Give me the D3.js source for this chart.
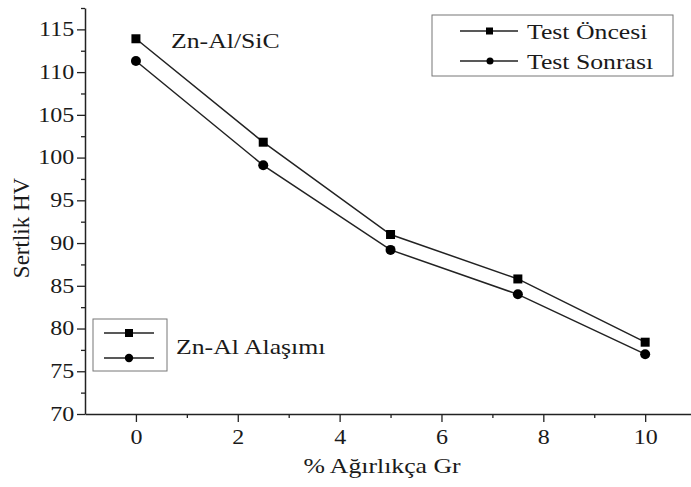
<!DOCTYPE html>
<html>
<head>
<meta charset="utf-8">
<script src="https://cdn.jsdelivr.net/npm/d3@7"></script>
<style>
  body { margin: 0; background: #fff; }
  text { font-family: "Liberation Serif", "DejaVu Serif", serif; fill: #1a1a1a; }
</style>
</head>
<body>
<script>
// data
var gr = [0, 2.5, 5, 7.5, 10];
var testOncesi = [113.9, 101.8, 91.0, 85.8, 78.4];
var testSonrasi = [111.3, 99.1, 89.2, 84.0, 77.0];
var seriesNames = ["Test Öncesi", "Test Sonrası"];
var yTicks = [70, 75, 80, 85, 90, 95, 100, 105, 110, 115];
var xTicks = [0, 2, 4, 6, 8, 10];

var width = 691, height = 487;
var padLeft = 85, padTop = 8, axisY = 414, padRight = 691;
var sx = 1.17; // text in the picture is a bit wide

var svg = d3.select("body").append("svg")
  .attr("width", width)
  .attr("height", height);

var xScale = d3.scaleLinear().domain([-1, 10.9]).range([padLeft, padRight]);
var yScale = d3.scaleLinear().domain([70, 117.5]).range([axisY, padTop]);

// minor ticks first, then major ticks with labels
svg.append("g")
  .attr("transform", "translate(0," + axisY + ")")
  .call(d3.axisBottom(xScale).tickValues([1, 3, 5, 7, 9]).tickSize(4).tickFormat(""))
  .call(g => g.select(".domain").remove());
svg.append("g")
  .attr("transform", "translate(" + padLeft + ",0)")
  .call(d3.axisLeft(yScale).tickValues(d3.range(72.5, 118, 5)).tickSize(4).tickFormat(""))
  .call(g => g.select(".domain").remove());

var xAxis = svg.append("g")
  .attr("transform", "translate(0," + axisY + ")")
  .call(d3.axisBottom(xScale).tickValues(xTicks).tickSize(8).tickSizeOuter(0).tickPadding(8));
var yAxis = svg.append("g")
  .attr("transform", "translate(" + padLeft + ",0)")
  .call(d3.axisLeft(yScale).tickValues(yTicks).tickSize(8).tickSizeOuter(0).tickPadding(9));

svg.selectAll(".tick line").attr("stroke", "#222").attr("stroke-width", 1.3);
svg.selectAll(".domain").attr("stroke", "#222").attr("stroke-width", 1.5);
svg.selectAll(".tick text")
  .style("font-size", "20px")
  .style("font-family", "'Liberation Serif', 'DejaVu Serif', serif")
  .attr("fill", "#1a1a1a");
xAxis.selectAll("text").attr("transform", function() {
  var t = d3.select(this.parentNode).attr("transform");
  return "scale(1.2,1)";
}).attr("x", 0);
yAxis.selectAll("text").attr("x", -9).attr("transform", "scale(1.2,1)");

// axis titles
svg.append("text")
  .attr("transform", "translate(382,473) scale(" + sx + ",1)")
  .attr("text-anchor", "middle")
  .style("font-size", "22px")
  .text("% Ağırlıkça Gr");
svg.append("text")
  .attr("transform", "translate(29,228) rotate(-90)")
  .attr("text-anchor", "middle")
  .style("font-size", "23px")
  .text("Sertlik HV");

// lines and markers
var line = d3.line()
  .x(function(d) { return xScale(d[0]); })
  .y(function(d) { return yScale(d[1]); });

var series = [testOncesi, testSonrasi].map(function(vals) {
  return gr.map(function(g, i) { return [g, vals[i]]; });
});

svg.append("g").selectAll("path")
  .data(series)
  .join("path")
  .attr("d", line)
  .attr("fill", "none")
  .attr("stroke", "#222")
  .attr("stroke-width", 1.5);

svg.append("g").selectAll("rect")
  .data(series[0])
  .join("rect")
  .attr("x", function(d) { return xScale(d[0]) - 4.5; })
  .attr("y", function(d) { return yScale(d[1]) - 4.5; })
  .attr("width", 9)
  .attr("height", 9)
  .attr("fill", "#000");

svg.append("g").selectAll("circle")
  .data(series[1])
  .join("circle")
  .attr("cx", function(d) { return xScale(d[0]); })
  .attr("cy", function(d) { return yScale(d[1]); })
  .attr("r", 5)
  .attr("fill", "#000");

// upper right legend
var leg = svg.append("g");
leg.append("rect")
  .attr("x", 432).attr("y", 15).attr("width", 241).attr("height", 61)
  .attr("fill", "#fff").attr("stroke", "#777").attr("stroke-width", 1);
seriesNames.forEach(function(name, i) {
  var y = 31 + i * 30;
  leg.append("line").attr("x1", 460).attr("x2", 518).attr("y1", y).attr("y2", y)
    .attr("stroke", "#222").attr("stroke-width", 1.5);
  if (i == 0) {
    leg.append("rect").attr("x", 486).attr("y", y - 3.5).attr("width", 7).attr("height", 7).attr("fill", "#000");
  } else {
    leg.append("circle").attr("cx", 490).attr("cy", y).attr("r", 3.5).attr("fill", "#000");
  }
  leg.append("text")
    .attr("transform", "translate(527," + (y + 8) + ") scale(" + sx + ",1)")
    .style("font-size", "22px")
    .text(name);
});

// lower left legend
var leg2 = svg.append("g");
leg2.append("rect")
  .attr("x", 93).attr("y", 319).attr("width", 74).attr("height", 52)
  .attr("fill", "#fff").attr("stroke", "#777").attr("stroke-width", 1);
[333, 358].forEach(function(y, i) {
  leg2.append("line").attr("x1", 104).attr("x2", 154).attr("y1", y).attr("y2", y)
    .attr("stroke", "#222").attr("stroke-width", 1.5);
  if (i == 0) {
    leg2.append("rect").attr("x", 125).attr("y", y - 4).attr("width", 8).attr("height", 8).attr("fill", "#000");
  } else {
    leg2.append("circle").attr("cx", 129).attr("cy", y).attr("r", 4.2).attr("fill", "#000");
  }
});

svg.append("text")
  .attr("transform", "translate(176,354) scale(" + sx + ",1)")
  .style("font-size", "22px")
  .text("Zn-Al Alaşımı");

svg.append("text")
  .attr("transform", "translate(171,48) scale(" + sx + ",1)")
  .style("font-size", "22px")
  .text("Zn-Al/SiC");
</script>
</body>
</html>
